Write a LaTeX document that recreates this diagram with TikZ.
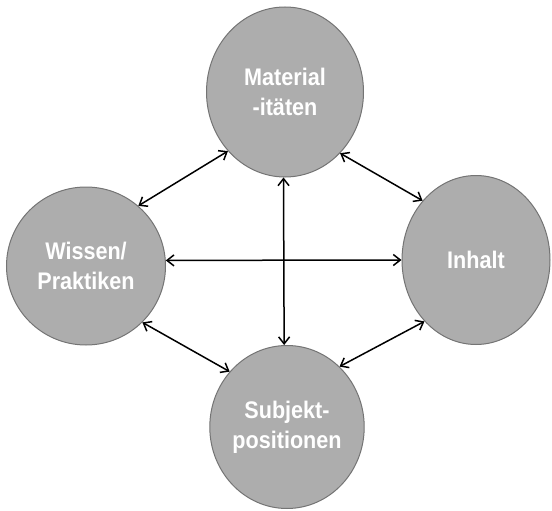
\documentclass[tikz,border=0pt]{standalone}
\usepackage{fontspec}
\usepackage{tikz}
\usetikzlibrary{shapes,arrows.meta}
\newfontfamily\labelfont[FakeStretch=0.9]{Liberation Sans}
\definecolor{topicfill}{HTML}{ADADAD}
\definecolor{topicline}{HTML}{747474}
\tikzstyle{topic}=[ellipse, draw=topicline, fill=topicfill, line width=1pt,
    inner sep=0, align=center, text=white,
    font=\labelfont\bfseries\fontsize{24}{30}\selectfont]
\tikzstyle{link}=[{Straight Barb[length=7pt,width=11pt]}-{Straight Barb[length=7pt,width=11pt]}, line width=1.5pt]

\begin{document}
\begin{tikzpicture}[x=1pt,y=-1pt]

        \useasboundingbox (0,0) rectangle (552,511);

        \node[topic,
            minimum width=157,
            minimum height=170] (block1) at (285,92) {Material\\-itäten};

        \node[topic,
            minimum width=159,
            minimum height=158] (block2) at (86,266) {Wissen/\\Praktiken};

        \node[topic,
            minimum width=148,
            minimum height=169] (block3) at (476,260) {Inhalt};

        \node[topic,
            minimum width=147,
            minimum height=163] (block4) at (287,427) {Subjekt-\\positionen};

% Arrows
        \draw[link] (block2.49) -- (block1.-134);
        \draw[link] (block1.-48) -- (block3.132);
        \draw[link] (block2.-45) -- (block4.136);
        \draw[link] (block3.-130) -- (block4.49);
        \draw[link] (block2.4) -- (block3.west);
        \draw[link] (block1.-91) -- (block4.92);

    \end{tikzpicture}
\end{document}
